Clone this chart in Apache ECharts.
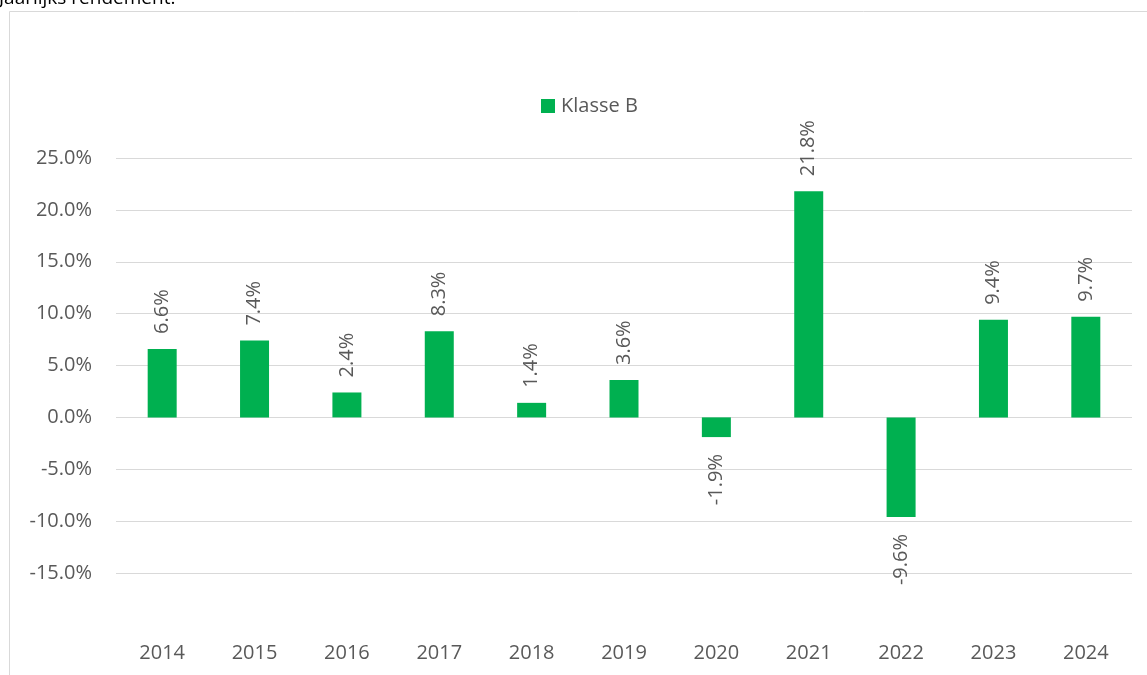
<!DOCTYPE html>
<html>
<head>
<meta charset="utf-8">
<script src="https://cdn.jsdelivr.net/npm/echarts@6/dist/echarts.min.js"></script>
<style>html,body{margin:0;padding:0;background:#fff}#c{width:1147px;height:675px}</style>
</head>
<body>
<div id="c"></div>
<script>
const categories = ['2014','2015','2016','2017','2018','2019','2020','2021','2022','2023','2024'];
const klasseB = [6.6, 7.4, 2.4, 8.3, 1.4, 3.6, -1.9, 21.8, -9.6, 9.4, 9.7];
const seriesName = 'Klasse B';
const titleText = 'Jaarlijks rendement:';

const chart = echarts.init(document.getElementById('c'));
const FONT = 'Open Sans';
const TXT = '#595959';
chart.setOption({
  animation: false,
  textStyle: { fontFamily: FONT },
  graphic: [
    { type: 'rect', shape: { x: 9.5, y: 11.5, width: 1300, height: 800 }, style: { fill: 'none', stroke: '#d9d9d9', lineWidth: 1 }, z: -1 },
    { type: 'text', left: -1, top: -11, style: { text: titleText, font: '19px ' + FONT, fill: '#000' } }
  ],
  legend: {
    left: 541, top: 96, padding: 0, itemWidth: 14, itemHeight: 14, itemGap: 6,
    icon: 'rect',
    textStyle: { fontFamily: FONT, fontSize: 20, color: TXT, padding: [0,0,0,1] },
    data: [seriesName]
  },
  grid: { left: 116, right: 15, top: 158, bottom: 102, containLabel: false },
  xAxis: {
    type: 'category', data: categories,
    axisLine: { show: false }, axisTick: { show: false },
    axisLabel: { margin: 70, color: TXT, fontSize: 20, fontFamily: FONT }
  },
  yAxis: {
    type: 'value', min: -15, max: 25, interval: 5,
    axisLine: { show: false }, axisTick: { show: false },
    axisLabel: { margin: 24, color: TXT, fontSize: 20, fontFamily: FONT, formatter: v => v.toFixed(1) + '%' },
    splitLine: { lineStyle: { color: '#d9d9d9', width: 1 } }
  },
  series: [{
    name: seriesName, type: 'bar', data: klasseB.map(v => ({
      value: v,
      label: v >= 0 ? { position: 'top', align: 'left' } : { position: 'bottom', align: 'right', distance: 17 }
    })),
    barWidth: 29,
    itemStyle: { color: '#00b050' },
    label: {
      show: true, rotate: 90, distance: 15, verticalAlign: 'middle',
      color: TXT, fontSize: 20, fontFamily: FONT,
      formatter: p => p.value.toFixed(1) + '%'
    }
  }]
});
</script>
</body>
</html>
